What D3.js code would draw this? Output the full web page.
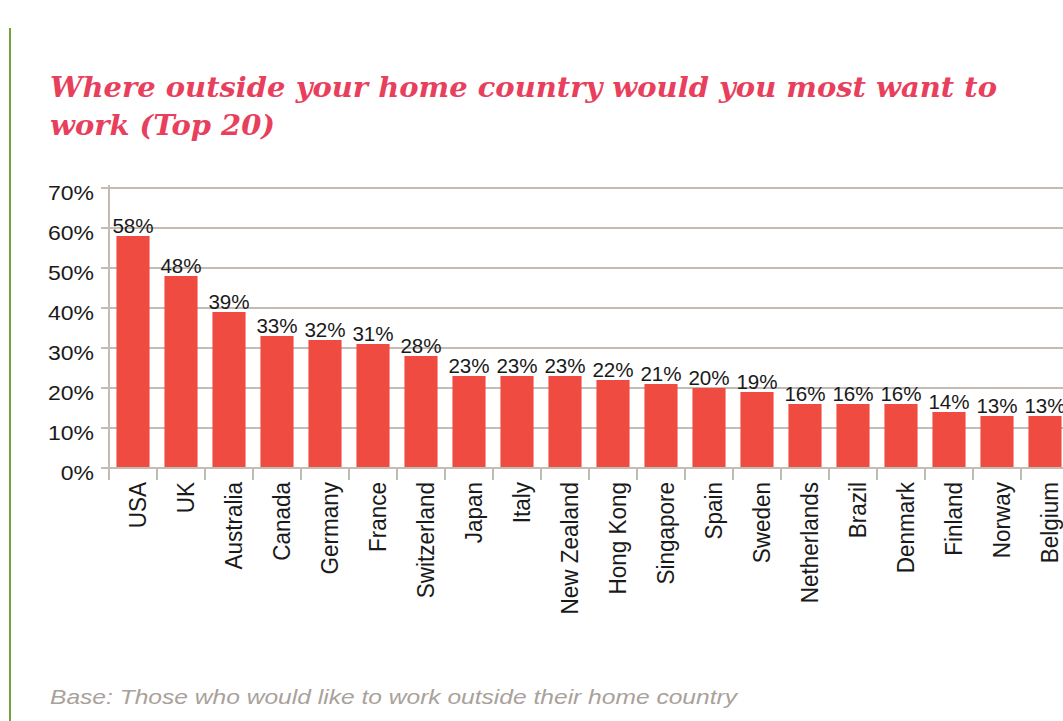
<!DOCTYPE html>
<html><head><meta charset="utf-8">
<script src="https://cdn.jsdelivr.net/npm/d3@7"></script>
<style>body{margin:0;background:#fff}svg{display:block}</style>
</head><body>
<svg id="c" width="1063" height="721"></svg>
<script>
const countries = ["USA","UK","Australia","Canada","Germany","France","Switzerland","Japan","Italy","New Zealand","Hong Kong","Singapore","Spain","Sweden","Netherlands","Brazil","Denmark","Finland","Norway","Belgium"];
const shares = [58,48,39,33,32,31,28,23,23,23,22,21,20,19,16,16,16,14,13,13];
const yTicks = [0,10,20,30,40,50,60,70];
const titleLines = ["Where outside your home country would you most want to","work (Top 20)"];
const note = "Base: Those who would like to work outside their home country";

const svg = d3.select("#c");
const x0 = 109, y0 = 468, yTop = 188;
const x = d3.scaleBand().domain(countries).range([x0, x0 + 48*countries.length]).paddingInner(0.31).paddingOuter(0.155);
const y = d3.scaleLinear().domain([0,70]).range([y0, yTop]);
const grid = "#c3bbb4";

// left green rule
svg.append("line").attr("x1",10).attr("x2",10).attr("y1",28).attr("y2",721).attr("stroke","#76a23a").attr("stroke-width",2);

// title
svg.append("g").selectAll("text").data(titleLines).join("text")
  .attr("x",50).attr("y",(d,i)=>97+i*38)
  .attr("fill","#e8405c").attr("font-family","DejaVu Serif").attr("font-weight","bold").attr("font-style","italic")
  .attr("font-size",28)
  .attr("textLength",(d,i)=> i===0 ? 947 : 225).attr("lengthAdjust","spacingAndGlyphs")
  .text(d=>d);

// gridlines
svg.append("g").selectAll("line").data(yTicks).join("line")
  .attr("x1",x0-8).attr("x2",1063).attr("y1",d=>y(d)).attr("y2",d=>y(d))
  .attr("stroke",grid).attr("stroke-width",2);

// y axis line
svg.append("line").attr("x1",x0).attr("x2",x0).attr("y1",yTop-3).attr("y2",y0+12).attr("stroke",grid).attr("stroke-width",2);

// x ticks at band boundaries
const bounds = d3.range(countries.length+1).map(i=>x0+i*x.step());
svg.append("g").selectAll("line").data(bounds.slice(1)).join("line")
  .attr("x1",d=>d).attr("x2",d=>d).attr("y1",y0).attr("y2",y0+12).attr("stroke",grid).attr("stroke-width",2);

// y labels
svg.append("g").selectAll("text").data(yTicks).join("text")
  .attr("transform",d=>`translate(94,${y(d)+12}) scale(1.15,1)`)
  .attr("text-anchor","end").attr("font-family","Liberation Sans").attr("font-size",20).attr("fill","#1a1a1a")
  .text(d=>d+"%");

// bars
svg.append("g").selectAll("rect").data(shares).join("rect")
  .attr("x",(d,i)=>x(countries[i])).attr("width",x.bandwidth())
  .attr("y",d=>y(d)).attr("height",d=>y0-y(d)-1)
  .attr("fill","#f04b40");

// value labels
svg.append("g").selectAll("text").data(shares).join("text")
  .attr("transform",(d,i)=>`translate(${x(countries[i])+x.bandwidth()/2},${y(d)-3}) scale(1.03,1)`)
  .attr("text-anchor","middle").attr("font-family","Liberation Sans").attr("font-size",20).attr("fill","#1a1a1a")
  .text(d=>d+"%");

// category labels
svg.append("g").selectAll("text").data(countries).join("text")
  .attr("transform",d=>`translate(${x(d)+x.bandwidth()/2+5},482) scale(1.1,1) rotate(-90)`)
  .attr("text-anchor","end").attr("dominant-baseline","central")
  .attr("font-family","Liberation Sans").attr("font-size",22.5).attr("fill","#1a1a1a")
  .text(d=>d);

// footnote
svg.append("text").attr("x",50).attr("y",704)
  .attr("font-family","Liberation Sans").attr("font-style","italic").attr("font-size",21).attr("fill","#a9a19b")
  .attr("textLength",687).attr("lengthAdjust","spacingAndGlyphs")
  .text(note);
</script>
</body></html>
